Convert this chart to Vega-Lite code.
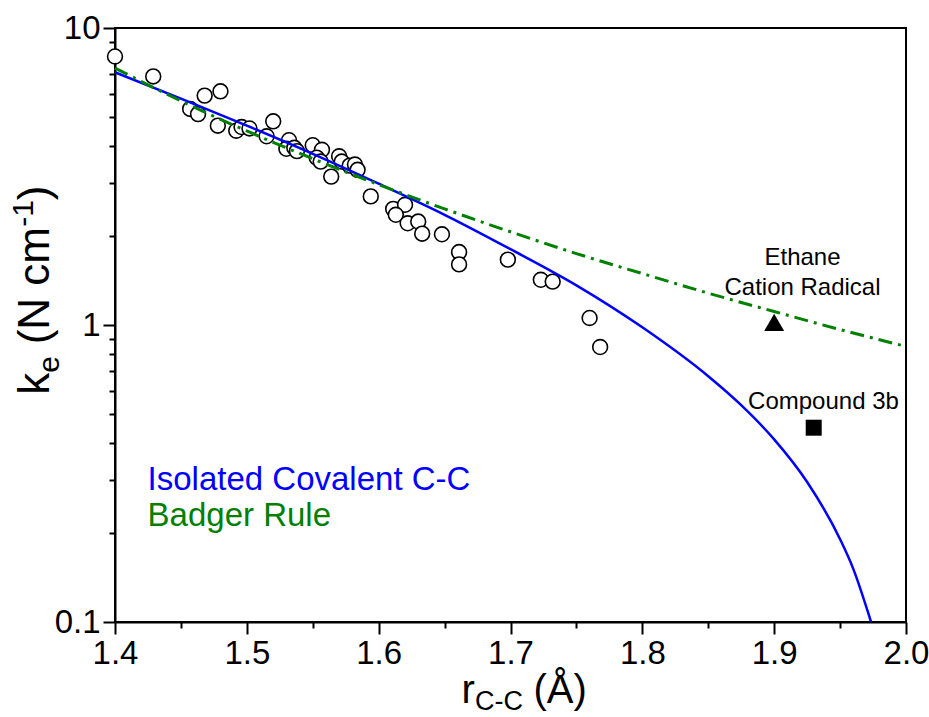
{
  "$schema": "https://vega.github.io/schema/vega-lite/v6.json",
  "width": 791,
  "height": 594,
  "autosize": "none",
  "padding": {"left": 115, "top": 28, "right": 23, "bottom": 95},
  "background": "white",
  "config": {
    "view": {"stroke": "black", "strokeWidth": 2},
    "font": "Liberation Sans",
    "axis": {
      "domainColor": "black", "domainWidth": 2, "tickColor": "black", "tickWidth": 2,
      "labelColor": "black", "labelFont": "Liberation Sans", "labelFontSize": 33,
      "grid": false, "title": null, "labelOverlap": false, "labelBound": false, "labelFlush": false
    }
  },
  "resolve": {"axis": {"x": "independent", "y": "independent"}},
  "datasets": {
    "pts": [
      {"r": 1.400, "k": 8.02}, {"r": 1.429, "k": 6.87}, {"r": 1.468, "k": 5.92}, {"r": 1.480, "k": 6.12},
      {"r": 1.457, "k": 5.34}, {"r": 1.463, "k": 5.13}, {"r": 1.478, "k": 4.69}, {"r": 1.492, "k": 4.51},
      {"r": 1.496, "k": 4.64}, {"r": 1.502, "k": 4.59}, {"r": 1.515, "k": 4.32}, {"r": 1.520, "k": 4.85},
      {"r": 1.532, "k": 4.19}, {"r": 1.530, "k": 3.92}, {"r": 1.536, "k": 3.95}, {"r": 1.538, "k": 3.85},
      {"r": 1.550, "k": 4.03}, {"r": 1.557, "k": 3.89}, {"r": 1.553, "k": 3.66}, {"r": 1.556, "k": 3.55},
      {"r": 1.570, "k": 3.70}, {"r": 1.572, "k": 3.55}, {"r": 1.564, "k": 3.16}, {"r": 1.578, "k": 3.44},
      {"r": 1.582, "k": 3.47}, {"r": 1.584, "k": 3.33}, {"r": 1.594, "k": 2.71}, {"r": 1.611, "k": 2.46},
      {"r": 1.620, "k": 2.54}, {"r": 1.613, "k": 2.35}, {"r": 1.622, "k": 2.20}, {"r": 1.630, "k": 2.23},
      {"r": 1.633, "k": 2.03}, {"r": 1.648, "k": 2.02}, {"r": 1.661, "k": 1.76}, {"r": 1.661, "k": 1.60},
      {"r": 1.698, "k": 1.66}, {"r": 1.723, "k": 1.42}, {"r": 1.732, "k": 1.40}, {"r": 1.760, "k": 1.056},
      {"r": 1.768, "k": 0.843}
    ],
    "covalent": [
      {"r": 1.40, "k": 7.09}, {"r": 1.45, "k": 5.78}, {"r": 1.50, "k": 4.69}, {"r": 1.55, "k": 3.77},
      {"r": 1.60, "k": 2.99}, {"r": 1.65, "k": 2.35}, {"r": 1.70, "k": 1.80}, {"r": 1.75, "k": 1.36},
      {"r": 1.80, "k": 0.982}, {"r": 1.85, "k": 0.672}, {"r": 1.875, "k": 0.537}, {"r": 1.90, "k": 0.412},
      {"r": 1.925, "k": 0.296}, {"r": 1.95, "k": 0.190}, {"r": 1.96, "k": 0.151}, {"r": 1.972, "k": 0.105},
      {"r": 1.976, "k": 0.092}
    ],
    "badger": [
      {"r": 1.40, "k": 7.33}, {"r": 1.45, "k": 5.68}, {"r": 1.50, "k": 4.50}, {"r": 1.55, "k": 3.63},
      {"r": 1.60, "k": 2.97}, {"r": 1.65, "k": 2.46}, {"r": 1.70, "k": 2.06}, {"r": 1.75, "k": 1.74},
      {"r": 1.80, "k": 1.49}, {"r": 1.85, "k": 1.28}, {"r": 1.90, "k": 1.11}, {"r": 1.95, "k": 0.965},
      {"r": 2.00, "k": 0.847}
    ],
    "ethane": [{"r": 1.9, "k": 1.02}],
    "compound": [{"r": 1.930, "k": 0.451}]
  },
  "layer": [
    {
      "data": {"name": "pts"},
      "mark": {"type": "point", "shape": "circle", "filled": false, "fill": "white", "stroke": "black", "strokeWidth": 1.6, "size": 220, "opacity": 1},
      "encoding": {
        "x": {
          "field": "r", "type": "quantitative",
          "scale": {"domain": [1.4, 2.0], "nice": false, "zero": false},
          "axis": {
            "orient": "bottom",
            "values": [1.4, 1.5, 1.6, 1.7, 1.8, 1.9, 2.0],
            "format": ".1f",
            "tickSize": 12,
            "labelPadding": 3
          }
        },
        "y": {
          "field": "k", "type": "quantitative",
          "scale": {"type": "log", "domain": [0.1, 10], "nice": false},
          "axis": {
            "orient": "left",
            "values": [0.1, 1, 10],
            "labelExpr": "datum.value == 10 ? '10' : datum.value == 1 ? '1' : '0.1'",
            "tickSize": 12,
            "labelPadding": 3
          }
        }
      }
    },
    {
      "data": {"name": "covalent"},
      "mark": {"type": "line", "color": "#0000FF", "strokeWidth": 2.5, "interpolate": "monotone", "clip": true},
      "encoding": {
        "x": {"field": "r", "type": "quantitative",
          "axis": {"orient": "bottom", "values": [1.45, 1.55, 1.65, 1.75, 1.85, 1.95], "labels": false, "domain": false, "tickSize": 6}},
        "y": {"field": "k", "type": "quantitative",
          "axis": {"orient": "left", "values": [0.2, 0.3, 0.4, 0.5, 0.6, 0.7, 0.8, 0.9, 2, 3, 4, 5, 6, 7, 8, 9], "labels": false, "domain": false, "tickSize": 6}}
      }
    },
    {
      "data": {"name": "badger"},
      "mark": {"type": "line", "color": "#008000", "strokeWidth": 3, "strokeDash": [14, 6, 3, 6], "interpolate": "monotone"},
      "encoding": {
        "x": {"field": "r", "type": "quantitative", "axis": null},
        "y": {"field": "k", "type": "quantitative", "axis": null}
      }
    },
    {
      "data": {"name": "ethane"},
      "mark": {"type": "point", "shape": "triangle-up", "filled": true, "color": "black", "size": 400, "opacity": 1},
      "encoding": {
        "x": {"field": "r", "type": "quantitative", "axis": null},
        "y": {"field": "k", "type": "quantitative", "axis": null}
      }
    },
    {
      "data": {"name": "compound"},
      "mark": {"type": "point", "shape": "square", "filled": true, "color": "black", "size": 256, "opacity": 1},
      "encoding": {
        "x": {"field": "r", "type": "quantitative", "axis": null},
        "y": {"field": "k", "type": "quantitative", "axis": null}
      }
    },
    {
      "data": {"values": [{}]},
      "mark": {"type": "text", "text": "Ethane", "fontSize": 24, "align": "center", "baseline": "alphabetic", "color": "black"},
      "encoding": {"x": {"datum": 1.9215, "type": "quantitative", "axis": null}, "y": {"datum": 1.596, "type": "quantitative", "axis": null}}
    },
    {
      "data": {"values": [{}]},
      "mark": {"type": "text", "text": "Cation Radical", "fontSize": 24, "align": "center", "baseline": "alphabetic", "color": "black"},
      "encoding": {"x": {"datum": 1.9215, "type": "quantitative", "axis": null}, "y": {"datum": 1.265, "type": "quantitative", "axis": null}}
    },
    {
      "data": {"values": [{}]},
      "mark": {"type": "text", "text": "Compound 3b", "fontSize": 24, "align": "center", "baseline": "alphabetic", "color": "black"},
      "encoding": {"x": {"datum": 1.9374, "type": "quantitative", "axis": null}, "y": {"datum": 0.523, "type": "quantitative", "axis": null}}
    },
    {
      "data": {"values": [{}]},
      "mark": {"type": "text", "text": "Isolated Covalent C-C", "fontSize": 33, "align": "left", "baseline": "alphabetic", "color": "#0000FF"},
      "encoding": {"x": {"datum": 1.4247, "type": "quantitative", "axis": null}, "y": {"datum": 0.279, "type": "quantitative", "axis": null}}
    },
    {
      "data": {"values": [{}]},
      "mark": {"type": "text", "text": "Badger Rule", "fontSize": 33, "align": "left", "baseline": "alphabetic", "color": "#008000"},
      "encoding": {"x": {"datum": 1.4247, "type": "quantitative", "axis": null}, "y": {"datum": 0.211, "type": "quantitative", "axis": null}}
    },
    {
      "data": {"values": [{}]},
      "mark": {"type": "text", "text": "r", "fontSize": 40, "align": "left", "baseline": "alphabetic", "color": "black", "dx": 0},
      "encoding": {"x": {"datum": 1.6628, "type": "quantitative", "axis": null}, "y": {"datum": 0.05337, "type": "quantitative", "axis": null}}
    },
    {
      "data": {"values": [{}]},
      "mark": {"type": "text", "text": "C-C", "fontSize": 27, "align": "left", "baseline": "alphabetic", "color": "black", "dx": 13.5, "dy": 7},
      "encoding": {"x": {"datum": 1.6628, "type": "quantitative", "axis": null}, "y": {"datum": 0.05337, "type": "quantitative", "axis": null}}
    },
    {
      "data": {"values": [{}]},
      "mark": {"type": "text", "text": "(Å)", "fontSize": 40, "align": "left", "baseline": "alphabetic", "color": "black", "dx": 72},
      "encoding": {"x": {"datum": 1.6628, "type": "quantitative", "axis": null}, "y": {"datum": 0.05337, "type": "quantitative", "axis": null}}
    },
    {
      "data": {"values": [{}]},
      "mark": {"type": "text", "text": "k", "fontSize": 44, "angle": 270, "align": "left", "baseline": "alphabetic", "color": "black", "dx": 0},
      "encoding": {"x": {"datum": 1.3503, "type": "quantitative", "axis": null}, "y": {"datum": 0.582, "type": "quantitative", "axis": null}}
    },
    {
      "data": {"values": [{}]},
      "mark": {"type": "text", "text": "e", "fontSize": 30, "angle": 270, "align": "left", "baseline": "alphabetic", "color": "black", "dx": 22, "dy": 10},
      "encoding": {"x": {"datum": 1.3503, "type": "quantitative", "axis": null}, "y": {"datum": 0.582, "type": "quantitative", "axis": null}}
    },
    {
      "data": {"values": [{}]},
      "mark": {"type": "text", "text": "(N cm", "fontSize": 44, "angle": 270, "align": "left", "baseline": "alphabetic", "color": "black", "dx": 50.5},
      "encoding": {"x": {"datum": 1.3503, "type": "quantitative", "axis": null}, "y": {"datum": 0.582, "type": "quantitative", "axis": null}}
    },
    {
      "data": {"values": [{}]},
      "mark": {"type": "text", "text": "-1", "fontSize": 30, "angle": 270, "align": "left", "baseline": "alphabetic", "color": "black", "dx": 168, "dy": -16.5},
      "encoding": {"x": {"datum": 1.3503, "type": "quantitative", "axis": null}, "y": {"datum": 0.582, "type": "quantitative", "axis": null}}
    },
    {
      "data": {"values": [{}]},
      "mark": {"type": "text", "text": ")", "fontSize": 44, "angle": 270, "align": "left", "baseline": "alphabetic", "color": "black", "dx": 194.5},
      "encoding": {"x": {"datum": 1.3503, "type": "quantitative", "axis": null}, "y": {"datum": 0.582, "type": "quantitative", "axis": null}}
    }
  ]
}
